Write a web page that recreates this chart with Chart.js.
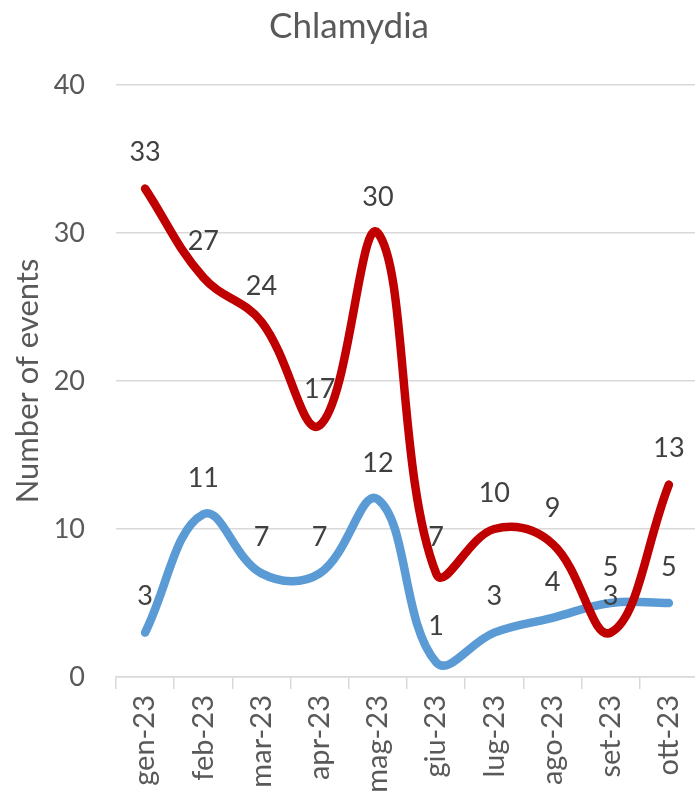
<!DOCTYPE html>
<html>
<head>
<meta charset="utf-8">
<script src="https://cdn.jsdelivr.net/npm/chart.js@4/dist/chart.umd.min.js"></script>
<style>
  html, body { margin: 0; padding: 0; background: #fff; overflow: hidden; }
  #wrap { width: 695px; height: 795px; overflow: hidden; }
</style>
</head>
<body>
<div id="wrap"><canvas id="chlamydiaChart" width="700" height="795"></canvas></div>
<script>
/* Chlamydia — monthly events, two series */

const months    = ['gen-23','feb-23','mar-23','apr-23','mag-23','giu-23','lug-23','ago-23','set-23','ott-23'];
const redSeries  = [33, 27, 24, 17, 30, 7, 10, 9, 3, 13];
const blueSeries = [3, 11, 7, 7, 12, 1, 3, 4, 5, 5];
const yTicks     = [0, 10, 20, 30, 40];

const FONT = 'Lato, "Open Sans", sans-serif';
const TEXT = '#595959';
const GRID = '#d9d9d9';

// value labels drawn above each point
const pointLabels = {
  id: 'pointLabels',
  afterDatasetsDraw(chart) {
    const ctx = chart.ctx;
    ctx.save();
    ctx.font = `27px ${FONT}`;
    ctx.fillStyle = '#404040';
    ctx.textAlign = 'center';
    ctx.textBaseline = 'middle';
    chart.data.datasets.forEach((ds, i) => {
      chart.getDatasetMeta(i).data.forEach((pt, j) => {
        ctx.fillText(String(ds.data[j]), pt.x, pt.y - 36);
      });
    });
    ctx.restore();
  }
};

new Chart(document.getElementById('chlamydiaChart'), {
  type: 'line',
  data: {
    labels: months,
    datasets: [
      {
        label: 'red',
        data: redSeries,
        borderColor: '#c00000',
        borderWidth: 8.5,
        tension: 0.4,
        pointRadius: 0,
        borderCapStyle: 'round',
        borderJoinStyle: 'round',
        fill: false,
      },
      {
        label: 'blue',
        data: blueSeries,
        borderColor: '#5b9bd5',
        borderWidth: 8.5,
        tension: 0.4,
        pointRadius: 0,
        borderCapStyle: 'round',
        borderJoinStyle: 'round',
        fill: false,
      },
    ],
  },
  options: {
    responsive: false,
    animation: false,
    layout: { padding: { left: 0, right: 2, top: 0, bottom: 0 } },
    plugins: {
      legend: { display: false },
      tooltip: { enabled: false },
      title: {
        display: true,
        text: 'Chlamydia',
        color: TEXT,
        font: { family: FONT, size: 35, weight: 'normal' },
        padding: { top: 6, bottom: 37 },
      },
    },
    scales: {
      x: {
        offset: true,
        grid: { offset: true, drawOnChartArea: false, drawTicks: true, tickLength: 12, color: GRID, lineWidth: 1.5 },
        border: { color: GRID, width: 1.5 },
        ticks: {
          color: TEXT,
          font: { family: FONT, size: 29 },
          minRotation: 90,
          maxRotation: 90,
          padding: 6,
          autoSkip: false,
        },
        // plot runs right up to the edge, rotated labels need no side room
        afterFit(scale) {
          scale.height = 118;
          scale.paddingLeft = 0;
          scale.paddingRight = 0;
        },
      },
      y: {
        min: 0,
        max: 40,
        afterBuildTicks(scale) { scale.ticks = yTicks.map(v => ({ value: v })); },
        grid: { color: GRID, lineWidth: 1.5, drawTicks: false },
        border: { display: false },
        ticks: { color: TEXT, font: { family: FONT, size: 27 }, padding: 31 },
        title: {
          display: true,
          text: 'Number of events',
          color: TEXT,
          font: { family: FONT, size: 31, weight: 'normal' },
          padding: { top: 9, bottom: 0 },
        },
        afterFit(scale) { scale.width = 116; },
      },
    },
  },
  plugins: [pointLabels],
});
</script>
</body>
</html>
